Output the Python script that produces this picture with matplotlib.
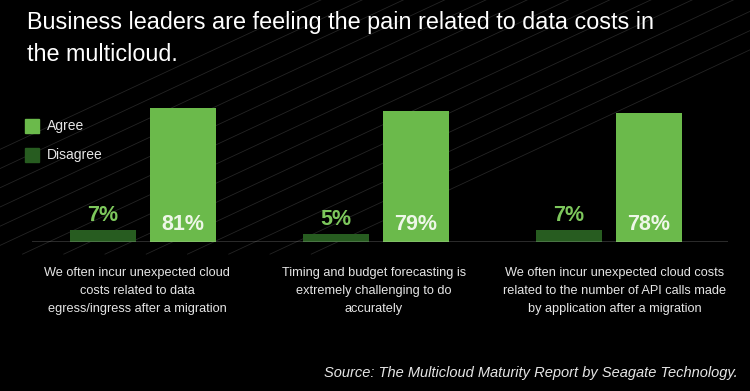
import numpy as np
import matplotlib.pyplot as plt
from matplotlib.lines import Line2D

# données
categories = [
    "We often incur unexpected cloud\ncosts related to data\negress/ingress after a migration",
    "Timing and budget forecasting is\nextremely challenging to do\naccurately",
    "We often incur unexpected cloud costs\nrelated to the number of API calls made\nby application after a migration",
]
disagree = [7, 5, 7]
agree = [81, 79, 78]

titre = "Business leaders are feeling the pain related to data costs in\nthe multicloud."
source = "Source: The Multicloud Maturity Report by Seagate Technology."

vert_clair = "#6bba4b"
vert_fonce = "#275c20"
texte_vert = "#7dc75c"

plt.rcParams['font.family'] = ['Liberation Sans', 'DejaVu Sans']

fig = plt.figure(figsize=(7.5, 3.91), dpi=100, facecolor="black")

# lignes diagonales décoratives en fond
for k in range(14):
    x0 = -0.3 + k * 0.055
    fig.add_artist(Line2D([x0, x0 + 0.75], [0.35, 1.02], transform=fig.transFigure,
                          color="#242424", lw=0.6, zorder=0))

ax = fig.add_axes([32 / 750, 149 / 391, 696 / 750, 165.4 / 391])
ax.set_facecolor("none")

x = np.arange(len(categories))
w = 0.283
off = 0.172
ax.bar(x - off, disagree, w, color=vert_fonce, label="Disagree", zorder=2)
ax.bar(x + off, agree, w, color=vert_clair, label="Agree", zorder=2)

# petit décalage horizontal des libellés
decal = [-0.025, -0.01, 0.025]
for i in range(len(x)):
    ax.text(x[i] - off, disagree[i] + 2.5, f"{disagree[i]}%", ha="center", va="bottom",
            color=texte_vert, fontsize=15.5, fontweight="bold")
    ax.text(x[i] + off, 4.5, f"{agree[i]}%", ha="center", va="bottom",
            color="#eef7e8", fontsize=15.5, fontweight="bold")
    ax.text(x[i] + decal[i], -0.15, categories[i], transform=ax.get_xaxis_transform(),
            ha="center", va="top", color="#e6e6e6", fontsize=9.2, linespacing=1.7)

ax.axhline(0, color="#d8d8d8", lw=1.0, zorder=3)
ax.set_xlim(-0.476, 2.511)
ax.set_ylim(0, 100)
ax.axis("off")

# légende
fig.patches.append(plt.Rectangle((25 / 750, 1 - 133 / 391), 14 / 750, 14 / 391,
                                 transform=fig.transFigure, color=vert_clair))
fig.patches.append(plt.Rectangle((25 / 750, 1 - 162 / 391), 14 / 750, 14 / 391,
                                 transform=fig.transFigure, color=vert_fonce))
fig.text(47 / 750, 1 - 126 / 391, "Agree", color="#e6e6e6", fontsize=10, va="center")
fig.text(47 / 750, 1 - 155 / 391, "Disagree", color="#e6e6e6", fontsize=10, va="center")

fig.text(27 / 750, 1 - 11 / 391, titre, color="white", fontsize=16.8, va="top",
         linespacing=1.5)
fig.text(738 / 750, 1 - 373 / 391, source, color="#e6e6e6", fontsize=10.5,
         style="italic", ha="right", va="center")

plt.savefig("out.png", dpi=100, facecolor="black")
